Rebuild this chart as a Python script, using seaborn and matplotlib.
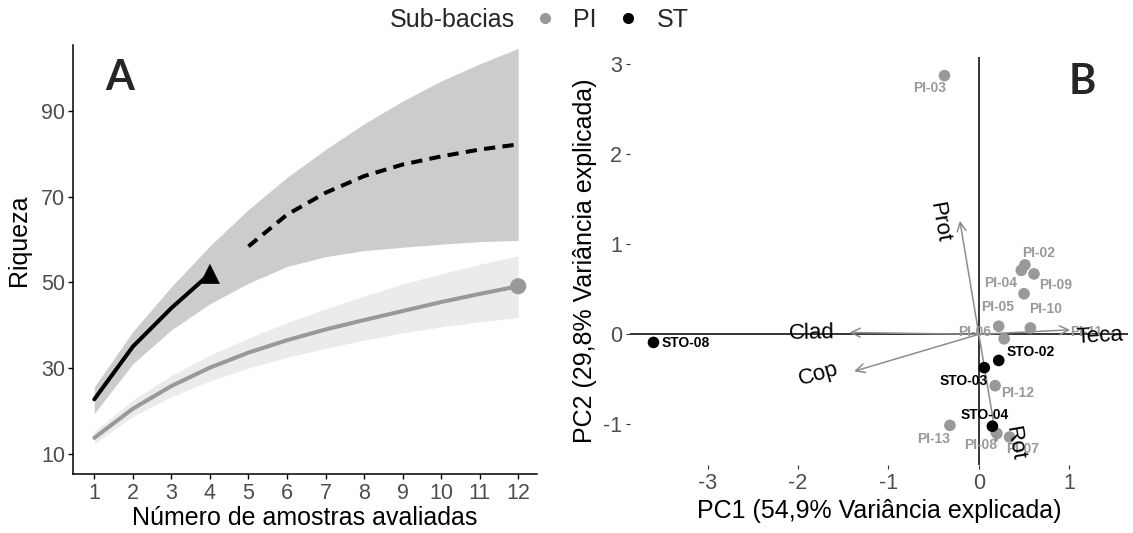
import numpy as np
import pandas as pd
import matplotlib
matplotlib.use("Agg")
import matplotlib.pyplot as plt
from matplotlib.lines import Line2D
import seaborn as sns

# ---------------- Panel A data (rarefaction / extrapolation) ----------------
amostras = [1, 2, 3, 4, 5, 6, 7, 8, 9, 10, 11, 12]
pi_riqueza = [13.7, 20.5, 25.8, 30.1, 33.6, 36.5, 39.0, 41.2, 43.3, 45.4, 47.3, 49.1]
pi_inf = [12.3, 18.7, 23.3, 27.0, 30.0, 32.5, 34.6, 36.5, 38.2, 39.6, 40.8, 41.8]
pi_sup = [15.2, 22.5, 28.3, 33.0, 37.0, 40.6, 43.8, 46.8, 49.6, 52.0, 54.2, 56.2]

st_amostras_interp = [1, 2, 3, 4]
st_interp = [22.7, 35.0, 44.0, 52.0]
st_amostras_extrap = [5, 6, 7, 8, 9, 10, 11, 12]
st_extrap = [58.4, 65.8, 70.9, 74.8, 77.5, 79.4, 81.0, 82.2]
st_inf = [19.4, 31.0, 38.9, 45.0, 49.8, 53.7, 56.0, 57.4, 58.2, 58.9, 59.5, 59.8]
st_sup = [25.6, 38.5, 49.0, 58.5, 67.0, 74.5, 81.0, 87.0, 92.3, 97.0, 101.0, 104.6]

# ---------------- Panel B data (PCA biplot) ----------------
amostra_nome = ["PI-02", "PI-03", "PI-04", "PI-05", "PI-06", "PI-07", "PI-08",
                "PI-09", "PI-10", "PI-11", "PI-12", "PI-13",
                "STO-02", "STO-03", "STO-04", "STO-08"]
sub_bacia = ["PI"] * 12 + ["ST"] * 4
pc1 = [0.51, -0.38, 0.47, 0.50, 0.22, 0.34, 0.20, 0.61, 0.57, 0.28, 0.18, -0.32,
       0.22, 0.06, 0.15, -3.60]
pc2 = [0.77, 2.87, 0.71, 0.45, 0.09, -1.14, -1.10, 0.67, 0.07, -0.05, -0.57, -1.01,
       -0.29, -0.37, -1.02, -0.09]

var_nome = ["Teca", "Clad", "Cop", "Prot", "Rot"]
var_pc1 = [1.01, -1.43, -1.38, -0.21, 0.20]
var_pc2 = [0.05, 0.02, -0.41, 1.26, -1.20]

# ---------------- layout (text placement only) ----------------
# label offsets for the sample names (pixels)
lab_off = {"PI-02": (14, 12), "PI-03": (-15, -12), "PI-04": (-21, -13), "PI-05": (-26, -13),
           "PI-06": (-24, -6), "PI-07": (13, -12), "PI-08": (-16, -12), "PI-09": (22, -11),
           "PI-10": (15, 19), "PI-11": (82, 7), "PI-12": (22, -7), "PI-13": (-16, -14),
           "STO-02": (32, 8), "STO-03": (-21, -13), "STO-04": (-8, 11), "STO-08": (32, -1)}
var_lab_pos = {"Teca": (1.34, -0.02, 3), "Clad": (-1.85, 0.015, 1), "Cop": (-1.77, -0.44, 16),
               "Prot": (-0.44, 1.25, -80), "Rot": (0.39, -1.21, -80)}

sns.set_theme(style="white")
plt.rcParams["font.family"] = ["Liberation Sans", "DejaVu Sans"]
plt.rcParams["axes.unicode_minus"] = False

GREY_PT = "#999999"
TICK_COL = "#4d4d4d"

fig = plt.figure(figsize=(11.33, 5.33), dpi=100)
W, H = 1133, 533

# ======================= Panel A =======================
axA = fig.add_axes([73.3 / W, (H - 474.3) / H, 463.4 / W, 429.3 / H])
axA.fill_between(amostras, st_inf, st_sup, color="#cccccc", lw=0, zorder=1)
axA.fill_between(amostras, pi_inf, pi_sup, color="#ebebeb", lw=0, zorder=1)

df_pi = pd.DataFrame({"amostras": amostras, "riqueza": pi_riqueza})
df_st_i = pd.DataFrame({"amostras": st_amostras_interp, "riqueza": st_interp})
df_st_e = pd.DataFrame({"amostras": st_amostras_extrap, "riqueza": st_extrap})

sns.lineplot(data=df_pi, x="amostras", y="riqueza", color=GREY_PT, lw=2.9, ax=axA, zorder=3)
sns.lineplot(data=df_st_i, x="amostras", y="riqueza", color="black", lw=2.9, ax=axA, zorder=3)
sns.lineplot(data=df_st_e, x="amostras", y="riqueza", color="black", lw=2.9, ax=axA,
             linestyle=(0, (2.8, 1.8)), zorder=3)
sns.scatterplot(x=[amostras[-1]], y=[pi_riqueza[-1]], color=GREY_PT, s=135, marker="o",
                edgecolor="none", ax=axA, zorder=4)
sns.scatterplot(x=[st_amostras_interp[-1]], y=[st_interp[-1]], color="black", s=210, marker="^",
                edgecolor="none", ax=axA, zorder=4)

axA.set_xlim(0.455, 12.48)
axA.set_ylim(5.2, 105.4)
axA.set_xticks(amostras)
axA.set_yticks([10, 30, 50, 70, 90])
for s in ["top", "right"]:
    axA.spines[s].set_visible(False)
for s in ["left", "bottom"]:
    axA.spines[s].set_color("black")
    axA.spines[s].set_linewidth(1.1)
axA.tick_params(axis="both", direction="out", length=3.5, width=1, color="black",
                labelsize=15.5, labelcolor=TICK_COL, pad=2.5, left=True, bottom=True)
axA.set_xlabel("Número de amostras avaliadas", fontsize=18, color="black")
axA.set_ylabel("Riqueza", fontsize=18, color="black")
axA.yaxis.set_label_coords(-0.092, 0.546)
axA.xaxis.set_label_coords(0.5, -0.074)
axA.text(0.1008, 0.923, "A", transform=axA.transAxes, fontsize=30, fontweight="bold",
         ha="center", va="center", family=["Lato", "DejaVu Sans"])

# ======================= Panel B =======================
axB = fig.add_axes([630 / W, (H - 465) / H, 498.5 / W, 408.3 / H])
axB.axhline(0, color="black", lw=1.1, zorder=1)
axB.axvline(0, color="black", lw=1.1, zorder=1)

for nome, vx, vy in zip(var_nome, var_pc1, var_pc2):
    axB.annotate("", xy=(vx, vy), xytext=(0, 0),
                 arrowprops=dict(arrowstyle="->", color="#8c8c8c", lw=1.1,
                                 mutation_scale=16, shrinkA=0, shrinkB=0), zorder=2)

df_pca = pd.DataFrame({"PC1": pc1, "PC2": pc2, "Sub-bacias": sub_bacia, "nome": amostra_nome})
sns.scatterplot(data=df_pca, x="PC1", y="PC2", hue="Sub-bacias",
                palette={"PI": GREY_PT, "ST": "black"}, s=70, edgecolor="none",
                legend=False, ax=axB, zorder=4)

for _, r in df_pca.iterrows():
    col = GREY_PT if r["Sub-bacias"] == "PI" else "black"
    dx, dy = lab_off[r["nome"]]
    axB.annotate(r["nome"], xy=(r["PC1"], r["PC2"]), xytext=(dx, dy),
                 textcoords="offset pixels", ha="center", va="center",
                 fontsize=10, fontweight="bold", color=col, zorder=5,
                 arrowprops=(dict(arrowstyle="-", color=GREY_PT, lw=1, shrinkA=6, shrinkB=5)
                             if r["nome"] == "PI-10" else None))

for nome in var_nome:
    lx, ly, rot = var_lab_pos[nome]
    axB.text(lx, ly, nome, fontsize=16, color="black", rotation=rot,
             rotation_mode="anchor", ha="center", va="center", zorder=6)

axB.set_xlim(-3.86, 1.656)
axB.set_ylim(-1.45, 3.08)
axB.set_xticks([-3, -2, -1, 0, 1])
axB.set_yticks([-1, 0, 1, 2, 3])
for s in axB.spines.values():
    s.set_visible(False)
axB.tick_params(axis="both", direction="out", length=3, width=0.8, color="#333333",
                labelsize=15.5, labelcolor=TICK_COL, pad=2.5, left=True, bottom=True)
axB.set_xlabel("PC1 (54,9% Variância explicada)", fontsize=18, color="black")
axB.set_ylabel("PC2 (29,8% Variância explicada)", fontsize=18, color="black")
axB.xaxis.set_label_coords(0.5, -0.084)
axB.yaxis.set_label_coords(-0.066, 0.5)
axB.text(0.908, 0.939, "B", transform=axB.transAxes, fontsize=30, fontweight="bold",
         ha="center", va="center", family=["Lato", "DejaVu Sans"])

# ======================= Legend =======================
fig.text(390 / W, 1 - 20 / H, "Sub-bacias", fontsize=18, ha="left", va="center")
handles = [Line2D([], [], marker="o", ls="none", color=GREY_PT, markersize=7, label="PI"),
           Line2D([], [], marker="o", ls="none", color="black", markersize=7, label="ST")]
fig.legend(handles=handles, loc="center left", bbox_to_anchor=(532 / W, 1 - 20 / H),
           ncol=2, frameon=False, fontsize=18, handlelength=1.0, handletextpad=0.65,
           columnspacing=0.75, borderpad=0, borderaxespad=0)

fig.savefig("out.png", dpi=100, facecolor="white")
